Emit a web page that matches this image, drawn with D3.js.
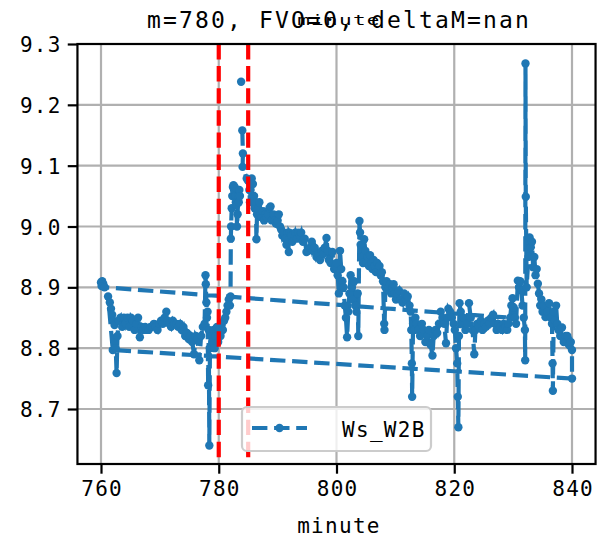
<!DOCTYPE html>
<html><head><meta charset="utf-8">
<script src="https://cdn.jsdelivr.net/npm/d3@7"></script>
<style>body{margin:0;background:#fff}svg{display:block}</style>
</head><body>
<svg id="c" width="600" height="541"></svg>
<script>
// ---- data (plot order, as in the source: null = NaN gap) ----
const minutes = [
 760.0,760.2,760.4,760.1,760.6,
 829.5,829.7,829.9,830.1,830.3,830.5,830.8,831.0,831.2,831.4,831.6,831.8,832.0,832.05,832.1,832.15,832.3,832.6,832.8,833.0,833.2,833.4,833.6,833.8,834.0,834.2,834.4,834.6,834.8,835.0,835.2,835.5,835.8,836.1,836.4,836.6,836.7,836.75,836.9,837.1,837.3,837.5,837.7,838.0,838.3,838.6,838.9,839.2,839.5,839.8,840.0,840.0,
 762.0,761.2,761.5,761.7,761.9,762.1,762.3,762.5,762.65,762.8,763.0,763.3,763.6,763.9,764.2,764.5,764.8,765.1,765.4,765.7,766.0,766.3,766.6,766.9,767.2,767.5,767.8,768.1,768.4,768.7,769.0,769.3,769.6,769.9,770.2,770.5,770.8,771.1,771.3,771.6,771.9,772.2,772.5,772.8,773.1,773.4,773.7,774.0,774.3,774.6,774.9,775.2,775.5,775.8,776.1,776.4,776.7,777.0,777.3,777.6,777.75,777.8,777.9,778.0,778.1,778.2,778.3,778.4,778.5,778.7,778.9,779.1,779.3,779.5,779.7,779.9,780.1,780.3,780.5,780.7,780.9,781.1,781.3,781.5,781.7,781.9,782.0,
 782.05,782.1,782.2,782.3,782.4,782.5,782.6,782.7,782.8,782.9,783.0,783.1,783.2,783.3,783.4,783.5,783.6,783.7,783.8,783.9,784.0,784.1,784.05,784.75,785.0,785.2,785.3,785.4,785.6,785.8,786.0,786.1,786.3,786.4,786.5,786.7,786.9,787.1,787.3,787.5,787.7,787.9,788.1,788.4,788.6,788.8,789.0,789.3,789.5,789.7,790.0,790.2,790.4,790.6,790.8,791.0,791.3,791.5,791.7,791.9,792.0,792.3,792.5,793.0,793.3,793.5,793.8,794.0,794.3,794.6,794.9,795.2,795.5,795.8,796.0,796.3,796.6,796.9,797.2,797.5,797.8,798.0,798.3,798.5,798.7,799.0,799.3,799.6,799.8,
 800.0,800.2,800.4,800.6,800.8,801.0,801.2,801.4,801.6,801.8,802.0,802.2,802.4,802.6,802.8,803.0,803.2,803.4,803.6,803.7,803.9,804.0,804.1,804.3,804.5,804.7,804.9,805.1,805.3,805.5,805.7,805.9,806.1,806.3,806.5,806.7,806.9,807.1,807.3,807.5,807.7,807.9,808.1,808.15,808.3,808.5,808.7,808.9,809.1,809.3,809.5,809.7,809.9,810.1,810.3,810.6,810.9,811.2,811.5,811.8,812.1,812.4,812.6,812.7,812.8,812.85,813.0,813.2,813.4,813.6,813.9,814.2,814.5,814.8,815.1,815.4,815.7,816.0,816.3,816.5,816.8,817.1,817.4,817.7,818.0,818.3,818.6,818.8,819.0,819.3,819.6,819.9,820.1,820.3,820.5,820.6,820.7,820.8,820.9,821.1,821.3,821.6,821.9,822.2,822.5,822.8,823.1,823.4,823.6,823.9,824.2,824.5,824.8,825.1,825.4,825.7,826.0,826.3,826.6,826.9,827.2,827.5,827.8,828.1,828.4,828.7,829.0,829.2
];
const ws_w2b = [
 8.908,8.910,8.905,8.902,8.900,
 8.850,8.870,8.882,8.867,8.850,8.840,8.911,8.900,8.910,8.895,8.870,8.850,8.830,8.780,9.268,9.049,8.900,8.950,8.982,8.966,8.975,8.933,8.950,8.920,8.930,8.906,8.890,8.870,8.880,8.860,8.870,8.851,8.860,8.874,8.850,8.840,8.775,8.730,8.860,8.845,8.870,8.840,8.830,8.820,8.834,8.810,8.820,8.820,8.805,8.810,8.797,8.750,
 8.797,8.885,8.875,8.865,8.855,8.845,8.838,8.800,8.759,8.820,8.845,8.850,8.835,8.850,8.840,8.850,8.835,8.850,8.845,8.830,8.840,8.850,8.818,8.835,8.830,8.835,8.830,8.830,8.835,8.835,8.840,8.835,8.830,8.840,8.845,8.840,8.850,8.860,8.845,8.840,8.835,8.845,8.840,8.840,8.835,8.840,8.830,8.835,8.820,8.825,8.815,8.820,8.810,8.790,8.820,8.815,8.780,8.820,8.835,8.840,8.920,8.905,8.875,8.850,8.860,8.739,8.830,8.640,8.800,8.820,8.810,8.830,8.800,8.820,8.835,8.810,8.830,8.820,8.840,8.830,8.845,8.850,8.860,8.870,8.880,8.870,8.885,
 8.980,9.000,9.030,9.050,9.065,9.068,9.060,9.065,9.050,9.040,9.035,9.000,9.020,9.050,9.040,9.060,9.050,null,9.238,null,9.158,9.120,9.098,9.079,9.075,9.060,9.040,9.060,9.079,9.070,9.050,9.030,9.040,8.979,9.020,9.030,9.040,9.020,9.015,9.025,9.010,9.020,9.015,9.020,9.030,9.033,9.010,9.020,9.010,9.005,9.010,9.020,9.000,8.995,8.985,8.990,8.980,8.970,8.990,8.958,8.990,8.985,8.975,8.990,8.980,8.990,8.985,8.990,8.975,8.980,8.958,8.960,8.965,8.975,8.960,8.965,8.950,8.955,8.945,8.960,8.955,8.965,8.981,8.960,8.945,8.940,8.958,8.930,8.935,
 8.940,8.920,8.890,8.960,8.930,8.910,8.900,8.870,8.850,8.818,8.860,8.890,8.920,8.900,8.880,8.910,8.870,8.860,8.890,8.820,9.009,8.990,8.970,8.950,8.940,8.979,8.960,8.940,8.950,8.935,8.953,8.940,8.930,8.945,8.935,8.925,8.940,8.930,8.935,8.920,8.925,8.910,8.840,8.830,8.900,8.910,8.895,8.900,8.905,8.890,8.900,8.905,8.890,8.880,8.890,8.895,8.880,8.875,8.890,8.880,8.885,8.870,8.860,8.830,8.775,8.720,8.840,8.830,8.850,8.840,8.830,8.820,8.840,8.830,8.810,8.820,8.830,8.805,8.788,8.820,8.830,8.825,8.840,8.860,8.850,8.840,8.808,8.850,8.865,8.860,8.850,8.840,8.830,8.800,8.775,8.720,8.670,8.820,8.874,8.860,8.840,8.850,8.830,8.840,8.874,8.850,8.830,8.790,8.830,8.840,8.835,8.845,8.830,8.840,8.835,8.845,8.840,8.850,8.855,8.840,8.830,8.840,8.835,8.830,8.840,8.835,8.830,8.840
];
const vLines = [780, 785];
const xTicks = [760, 780, 800, 820, 840];
const yTicks = [8.7, 8.8, 8.9, 9.0, 9.1, 9.2, 9.3];
const titleText = "m=780, FVO=0, deltaM=nan";
const seriesName = "Ws_W2B";
const xLabel = "minute";

// ---- layout ----
const L = 77.45, R = 595.55, T = 44, B = 464;
const blue = "#1f77b4";
const mono = "'DejaVu Sans Mono', monospace";
const svg = d3.select("#c");
const x = d3.scaleLinear().domain([756, 844]).range([L, R]);
const y = d3.scaleLinear().domain([8.6096, 9.30]).range([B, T]);
const pts = minutes.map((m, i) => ({m, v: ws_w2b[i]}));

svg.append("defs").append("clipPath").attr("id", "clip")
  .append("rect").attr("x", L).attr("y", T).attr("width", R - L).attr("height", B - T);

// grid
const g = svg.append("g");
g.selectAll(".gx").data(xTicks).join("line")
  .attr("x1", d => x(d)).attr("x2", d => x(d)).attr("y1", T).attr("y2", B)
  .attr("stroke", "#b0b0b0").attr("stroke-width", 2.2);
g.selectAll(".gy").data(yTicks).join("line")
  .attr("y1", d => y(d)).attr("y2", d => y(d)).attr("x1", L).attr("x2", R)
  .attr("stroke", "#b0b0b0").attr("stroke-width", 2.2);

// data
const plot = svg.append("g").attr("clip-path", "url(#clip)");
const line = d3.line().defined(d => d.v !== null).x(d => x(d.m)).y(d => y(d.v));
plot.append("path").datum(pts).attr("d", line).attr("fill", "none")
  .attr("stroke", blue).attr("stroke-width", 4.2).attr("stroke-dasharray", "15.4,6.7");
plot.selectAll("circle").data(pts.filter(d => d.v !== null)).join("circle")
  .attr("cx", d => x(d.m)).attr("cy", d => y(d.v)).attr("r", 4.2).attr("fill", blue);

// red vertical lines
plot.selectAll(".vl").data(vLines).join("line")
  .attr("x1", d => x(d)).attr("x2", d => x(d)).attr("y1", T).attr("y2", B)
  .attr("stroke", "#ff0000").attr("stroke-width", 4.2).attr("stroke-dasharray", "15.4,6.7");

// axes
const ax = svg.append("g").attr("transform", `translate(0,${B})`)
  .call(d3.axisBottom(x).tickValues(xTicks).tickSize(9.7).tickPadding(7).tickFormat(d3.format("d")));
const ay = svg.append("g").attr("transform", `translate(${L},0)`)
  .call(d3.axisLeft(y).tickValues(yTicks).tickSize(9.7).tickPadding(6).tickFormat(d3.format(".1f")));
[ax, ay].forEach(a => {
  a.select(".domain").remove();
  a.selectAll(".tick line").attr("stroke", "#000").attr("stroke-width", 2.2);
  a.selectAll(".tick text").attr("font-family", mono).attr("font-size", 21)
    .attr("letter-spacing", "1.3px").attr("fill", "#000");
});
ax.selectAll(".tick text").attr("dx", "0.65px");
ay.selectAll(".tick text").attr("dy", "0.36em");

// frame
svg.append("rect").attr("x", L).attr("y", T).attr("width", R - L).attr("height", B - T)
  .attr("fill", "none").attr("stroke", "#000").attr("stroke-width", 2.2);

// labels
svg.append("text").attr("x", 339).attr("y", 533).attr("text-anchor", "middle")
  .attr("font-family", mono).attr("font-size", 21).attr("letter-spacing", "1.3px").text(xLabel);
svg.append("text").attr("x", 339).attr("y", 28).attr("text-anchor", "middle")
  .attr("font-family", mono).attr("font-size", 23).attr("letter-spacing", "2.15px").text(titleText);
svg.append("text").attr("transform", "translate(339,25) scale(1,0.65)").attr("text-anchor", "middle")
  .attr("font-family", mono).attr("font-size", 21).attr("letter-spacing", "1.3px").text(xLabel);

// legend
const lg = svg.append("g");
lg.append("rect").attr("x", 242).attr("y", 407).attr("width", 189).attr("height", 44).attr("rx", 5)
  .attr("fill", "#fff").attr("fill-opacity", 0.8).attr("stroke", "#cccccc").attr("stroke-width", 2.2);
lg.append("line").attr("x1", 252).attr("x2", 307).attr("y1", 428).attr("y2", 428)
  .attr("stroke", blue).attr("stroke-width", 4.2).attr("stroke-dasharray", "15.4,6.7");
lg.append("circle").attr("cx", 279.5).attr("cy", 428).attr("r", 4.2).attr("fill", blue);
lg.append("text").attr("x", 342).attr("y", 437).attr("font-family", mono).attr("font-size", 21)
  .attr("letter-spacing", "1.3px").text(seriesName);
</script>
</body></html>
